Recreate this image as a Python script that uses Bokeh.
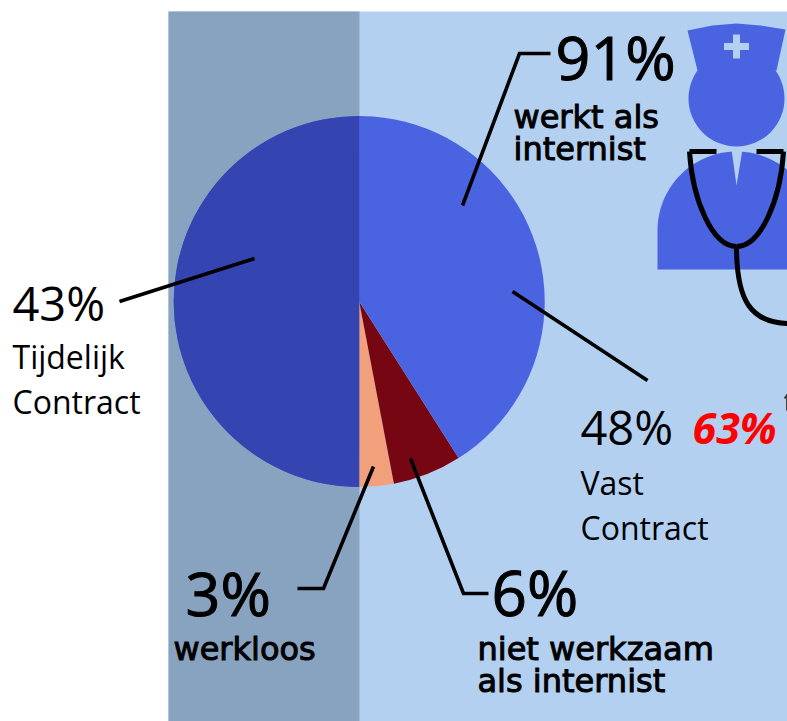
import numpy as np
from bokeh.plotting import figure
from bokeh.models import Range1d
from bokeh.core.properties import value
from bokeh.embed import file_html
from bokeh.resources import INLINE

# chart data: counter-clockwise from the bottom of the pie
slice_names = ["werkloos", "niet werkzaam als internist", "werkt als internist"]
slice_values = [3, 6, 91]
slice_colors = ["#F2A07B", "#770613", "#4A63E0"]

W, H = 787, 721
p = figure(width=W, height=H, x_range=Range1d(0, W), y_range=Range1d(H, 0),
           output_backend="svg", toolbar_location=None, min_border=0,
           background_fill_color="white", border_fill_color="white", outline_line_color=None)
p.axis.visible = False
p.grid.visible = False

BG = "#B3D0F1"
BAND = "#88A3C0"
DARK = "#3444B0"
CX, CY, R = 358.7, 301, 185.5
p.quad(left=[168], right=[800], top=[11], bottom=[730], fill_color=BG, line_color=None)
p.quad(left=[168], right=[359], top=[11], bottom=[730], fill_color=BAND, line_color=None)

frac = np.cumsum([0] + slice_values) / sum(slice_values)
start = -np.pi / 2 + frac[:-1] * 2 * np.pi
end = -np.pi / 2 + frac[1:] * 2 * np.pi
p.wedge(x=[CX] * 3, y=[CY] * 3, radius=R, start_angle=start, end_angle=end,
        direction="anticlock", fill_color=slice_colors, line_color=None)
# the band darkens the left half of the pie
p.wedge(x=[CX], y=[CY], radius=R, start_angle=[np.pi / 2], end_angle=[-np.pi / 2],
        direction="anticlock", fill_color=DARK, line_color=None)

# nurse icon
ICON = "#4A63E0"
p.patch([687, 712, 736, 760, 785, 776, 697], [30, 25, 23, 25, 29, 70, 70], fill_color=ICON, line_color=None)
p.circle(x=[736], y=[98], radius=48, fill_color=ICON, line_color=None)
th = np.linspace(np.pi, 2 * np.pi, 60)
bx = [657] + list(736 + 79 * np.cos(th)) + [815]
by = [269] + list(230 + 79 * np.sin(th)) + [269]
p.patch(bx, by, fill_color=ICON, line_color=None)
p.patch([731, 742, 736], [149, 149, 185], fill_color=BG, line_color=None)
p.quad(left=[723.5, 732.5], right=[748.5, 739.5], top=[42.5, 34], bottom=[49.5, 58], fill_color=BG, line_color=None)

def stroke(xs, ys, w=5, color="black"):
    p.line(xs, ys, line_color=color, line_width=w, line_join="miter")

stroke([716, 689], [151, 151])
stroke([756, 783], [151, 151])
p.bezier(x0=[689], y0=[151], x1=[736], y1=[246], cx0=[692], cy0=[200], cx1=[712], cy1=[246],
         line_color="black", line_width=5)
p.bezier(x0=[783], y0=[151], x1=[736], y1=[246], cx0=[780], cy0=[200], cx1=[760], cy1=[246],
         line_color="black", line_width=5)
p.bezier(x0=[736], y0=[246], x1=[790], y1=[323], cx0=[736], cy0=[300], cx1=[750], cy1=[323],
         line_color="black", line_width=5)

# leaders
stroke([462, 519, 550], [205, 53, 53], 3.6)
stroke([119, 254], [301, 258], 3.6)
stroke([512, 647], [291, 380], 3.6)
stroke([373, 323, 297], [466, 588, 588], 3.6)
stroke([410, 463, 488], [458, 593, 593], 3.6)
# sliver of a glyph cropped by the right edge of the picture
stroke([784, 787], [398, 394], 1.8, "#333333")
stroke([786.5, 786.5], [394, 410], 1.8, "#333333")

def txt(x, y, s, font, size, color="black", style="normal", outline=None):
    p.text(x=[x], y=[y - 0.4 * size], text=[s], text_font=value(font), text_font_size=f"{size}px",
           text_color=color, text_font_style=style, text_baseline="alphabetic", text_align="left",
           outline_color=outline)

PLAIN = "Open Sans"
txt(12, 321, "43%", PLAIN, 47)
txt(12, 369, "Tijdelijk", PLAIN, 32)
txt(12, 414, "Contract", PLAIN, 32)
txt(580, 445, "48%", PLAIN, 47)
txt(580, 495, "Vast", PLAIN, 32)
txt(580, 540, "Contract", PLAIN, 32)
txt(692, 444, "63%", PLAIN, 43, "#FF0000", "bold italic")

STENCIL = "DejaVu Sans"
txt(555, 80, "91%", PLAIN, 61, outline="black")
txt(513, 129, "werkt als", STENCIL, 32, outline="black")
txt(513, 161, "internist", STENCIL, 32, outline="black")
txt(185, 616, "3%", PLAIN, 61, outline="black")
txt(173, 661, "werkloos", STENCIL, 32, outline="black")
txt(491, 616, "6%", PLAIN, 62, outline="black")
txt(477, 661, "niet werkzaam", STENCIL, 32, outline="black")
txt(477, 693, "als internist", STENCIL, 32, outline="black")

open("out.html", "w").write(file_html(p, INLINE))
